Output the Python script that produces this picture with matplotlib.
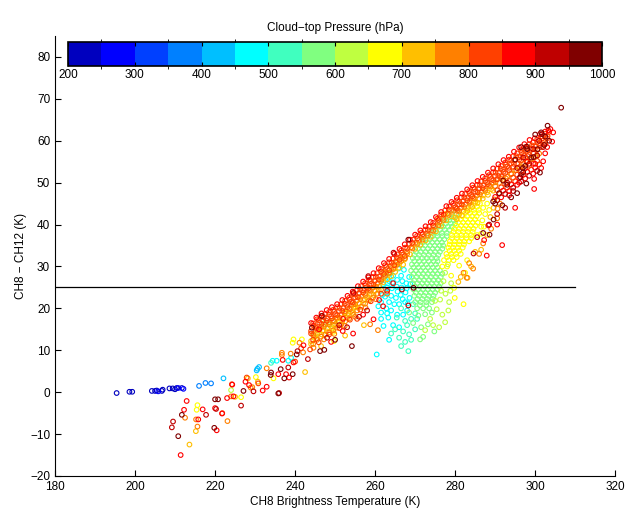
import numpy as np
import matplotlib
matplotlib.use('Agg')
import matplotlib.pyplot as plt
from matplotlib.colors import ListedColormap, BoundaryNorm
from matplotlib.cm import ScalarMappable

plt.rcParams['font.family'] = ['Liberation Sans', 'DejaVu Sans']
plt.rcParams['font.size'] = 8.5

# Точки (CH8 Tb, CH8-CH12), сгруппированы по давлению верхней границы облаков (hPa)
p225 = [(195.4, -0.2), (198.6, 0.1), (199.3, 0.1), (204.2, 0.3), (205.0, 0.3), (205.4, 0.4), (206.7, 0.3),
        (206.9, 0.6), (208.6, 0.9), (209.4, 0.9), (210.0, 0.7), (210.4, 1.0), (211.7, 1.0)]
p275 = [(205.8, 0.2), (210.8, 1.0), (212.1, 0.8)]
p375 = [(216.0, 1.5), (217.6, 2.2), (219.0, 2.1)]
p425 = [(222.1, 3.3), (230.4, 5.2), (230.6, 5.6), (231.0, 6.0)]
p475 = [(234.4, 7.5), (235.4, 7.5), (238.3, 7.5), (239.0, 8.2), (260.4, 9.0), (262.1, 15.8), (263.3, 17.8),
        (262.5, 27.5), (263.5, 26.5), (264.5, 27.8), (265.5, 26.8), (266.5, 27.8), (263.0, 25.0), (264.2, 24.8),
        (265.4, 25.2), (266.6, 25.0), (267.8, 26.0), (268.5, 27.5), (264.0, 23.0), (265.2, 22.5), (266.4, 23.2),
        (267.6, 23.8), (268.6, 22.5), (263.5, 21.5), (266.0, 21.0), (267.5, 21.5), (261.5, 19.0), (264.0, 19.5),
        (265.5, 18.5), (267.0, 18.5), (262.5, 22.8), (261.5, 21.5), (268.0, 19.5), (266.0, 15.5), (264.5, 16.0),
        (262.8, 20.0), (267.2, 29.2), (265.8, 29.5), (262.0, 25.8), (263.2, 26.0), (264.4, 26.2), (265.6, 24.0),
        (266.8, 26.5), (267.9, 24.8), (268.8, 25.8), (263.8, 28.3), (262.9, 23.8), (261.8, 23.2), (264.8, 21.0),
        (266.9, 22.2), (268.2, 21.2), (263.0, 18.8), (260.8, 20.5), (261.5, 17.5), (263.5, 12.5)]
p525 = [(265.4, 17.8), (268.3, 9.8), (266.0, 13.0), (267.0, 14.5), (268.0, 16.0), (269.0, 17.5), (270.0, 15.0),
        (267.5, 12.0), (269.0, 12.5), (266.5, 11.0), (265.0, 15.0), (268.5, 13.8), (270.5, 17.5), (266.5, 20.0),
        (269.5, 21.0), (270.0, 18.8), (264.0, 14.0), (267.5, 17.0), (234.0, 7.0)]
p575 = [(279.2, 42.5), (280.3, 42.5),
        (277.3, 41), (278.5, 41), (279.7, 41),
        (275.8, 39.5), (277, 39.5), (278.2, 39.5), (279.2, 39.5),
        (274.3, 38), (275.5, 38), (276.7, 38), (277.9, 38),
        (272.5, 36.5), (273.7, 36.5), (274.9, 36.5), (276.1, 36.5), (277.3, 36.5),
        (271.3, 35), (272.5, 35), (273.7, 35), (274.9, 35), (276.1, 35), (277, 35),
        (270.2, 33.5), (271.4, 33.5), (272.6, 33.5), (273.8, 33.5), (275, 33.5), (276.2, 33.5),
        (269.4, 32), (270.6, 32), (271.8, 32), (273, 32), (274.2, 32), (275.4, 32),
        (269.2, 30.5), (270.4, 30.5), (271.6, 30.5), (272.8, 30.5), (274, 30.5), (275.2, 30.5),
        (269, 29), (270.2, 29), (271.4, 29), (272.6, 29), (273.8, 29), (275, 29), (276.2, 29),
        (269.2, 27.5), (270.4, 27.5), (271.6, 27.5), (272.8, 27.5), (274, 27.5), (275.2, 27.5), (276.4, 27.5),
        (269.4, 26), (270.6, 26), (271.8, 26), (273, 26), (274.2, 26), (275.4, 26), (276.4, 26),
        (269.6, 24.5), (270.8, 24.5), (272, 24.5), (273.2, 24.5), (274.4, 24.5), (275.6, 24.5),
        (269.8, 23), (271, 23), (272.2, 23), (273.4, 23), (274.6, 23),
        (270, 21.5), (271.4, 21.5), (272.8, 21.5), (274.2, 21.5),
        (270.5, 20), (272, 20), (273.5, 20),
        (278.5, 41.75), (279.7, 41.75),
        (276.5, 40.25), (277.7, 40.25), (278.9, 40.25), (280, 40.25),
        (275, 38.75), (276.2, 38.75), (277.4, 38.75), (278.6, 38.75),
        (273.2, 37.25), (274.4, 37.25), (275.6, 37.25), (276.8, 37.25), (277.9, 37.25),
        (271.9, 35.75), (273.1, 35.75), (274.3, 35.75), (275.5, 35.75), (276.7, 35.75),
        (270.8, 34.25), (272, 34.25), (273.2, 34.25), (274.4, 34.25), (275.6, 34.25), (276.8, 34.25),
        (269.8, 32.75), (271, 32.75), (272.2, 32.75), (273.4, 32.75), (274.6, 32.75), (275.8, 32.75),
        (269.8, 31.25), (271, 31.25), (272.2, 31.25), (273.4, 31.25), (274.6, 31.25), (275.6, 31.25),
        (269.6, 29.75), (270.8, 29.75), (272, 29.75), (273.2, 29.75), (274.4, 29.75), (275.6, 29.75),
        (269.6, 28.25), (270.8, 28.25), (272, 28.25), (273.2, 28.25), (274.4, 28.25), (275.6, 28.25), (276.8, 28.25),
        (269.8, 26.75), (271, 26.75), (272.2, 26.75), (273.4, 26.75), (274.6, 26.75), (275.8, 26.75),
        (270, 25.25), (271.2, 25.25), (272.4, 25.25), (273.6, 25.25), (274.8, 25.25), (276, 25.25),
        (270.2, 23.75), (271.4, 23.75), (272.6, 23.75), (273.8, 23.75), (275, 23.75),
        (270.6, 22.25), (271.8, 22.25), (273, 22.25), (274.4, 22.25),
        (271.2, 20.75), (272.8, 20.75),
        (270.8, 18.3), (272.5, 18.6), (271.25, 12.6), (272.0, 13.2), (273.2, 16.2), (271.5, 15.5),
        (274.2, 19.0), (269.5, 16.5), (268.5, 19.0), (274.8, 14.5)]
p625 = [(224.0, 0.5), (244.6, 13.4), (245.4, 14.0), (247.1, 15.8), (247.5, 16.6), (248.6, 16.0), (249.5, 17.0),
        (246.3, 15.2), (273.75, 17.5), (275.4, 19.8), (276.25, 22.1), (277.1, 26.5), (277.5, 16.7), (276.5, 24.2),
        (277.5, 28.5), (278.2, 30.5), (276.8, 18.5), (278.5, 21.5), (275.0, 21.8), (274.5, 16.0), (279.0, 26.0),
        (272.5, 14.8), (278.3, 19.5), (276.0, 15.5), (277.6, 23.5), (278.8, 24.2)]
p675 = [(285, 45), (286.2, 45),
        (283.5, 43.5), (284.7, 43.5), (285.9, 43.5),
        (281.8, 42), (283, 42), (284.2, 42), (285.4, 42),
        (280.8, 40.5), (282, 40.5), (283.2, 40.5), (284.4, 40.5), (285.6, 40.5),
        (279.8, 39), (281, 39), (282.2, 39), (283.4, 39), (284.6, 39),
        (279.2, 37.5), (280.4, 37.5), (281.6, 37.5), (282.8, 37.5), (284, 37.5),
        (278.7, 36), (279.9, 36), (281.1, 36), (282.3, 36), (283.5, 36),
        (278.3, 34.5), (279.5, 34.5), (280.7, 34.5), (281.9, 34.5),
        (277.8, 33), (279, 33), (280.2, 33), (281.4, 33),
        (277.2, 31.5), (278.4, 31.5), (279.6, 31.5),
        (276.8, 30), (278, 30),
        (284.2, 44.25), (285.5, 44.25),
        (282.5, 42.75), (283.7, 42.75), (284.9, 42.75), (286, 42.75),
        (281.4, 41.25), (282.6, 41.25), (283.8, 41.25), (285, 41.25),
        (280.3, 39.75), (281.5, 39.75), (282.7, 39.75), (283.9, 39.75), (285.1, 39.75),
        (279.6, 38.25), (280.8, 38.25), (282, 38.25), (283.2, 38.25), (284.4, 38.25),
        (279.2, 36.75), (280.4, 36.75), (281.6, 36.75), (282.8, 36.75), (284, 36.75),
        (278.6, 35.25), (279.8, 35.25), (281, 35.25), (282.2, 35.25),
        (278.6, 33.75), (279.8, 33.75), (281, 33.75),
        (278, 32.25), (279.2, 32.25), (280.4, 32.25),
        (287.0, 44.0), (288.0, 45.0), (287.5, 42.5), (286.8, 41.0), (288.5, 43.5), (287.2, 39.5), (286.5, 37.8),
        (279.75, 24.9), (279.9, 22.5), (282.1, 21.0), (281.0, 30.2), (283.0, 31.5), (285.5, 37.5), (286.5, 39.5),
        (282.5, 28.5), (279.0, 27.8), (276.0, 41.5), (277.5, 42.5), (215.6, -3.1), (215.4, -4.2), (226.5, -1.2),
        (230.2, 3.6), (234.6, 3.3), (239.4, 11.8), (241.7, 12.6), (249.6, 14.4), (249.75, 12.2), (239.6, 12.6),
        (250.5, 17.5), (252.5, 19.0), (255.0, 20.5)]
p725 = [(244.0, 11.5), (245.3, 12.8), (246.6, 13.8), (247.9, 14.5), (249.2, 15.1), (250.5, 15.9), (251.8, 16.9),
        (253.1, 17.8), (254.4, 18.9), (255.7, 20.2), (257.0, 21.25), (258.3, 22.2), (259.6, 23.2), (260.9, 24.4),
        (262.2, 27.4), (263.5, 28.3), (264.8, 29.5), (266.1, 30.8), (267.4, 31.7), (268.7, 32.9), (270.0, 34.2),
        (271.3, 35.2), (272.6, 36.2), (273.9, 37.1), (275.2, 38.4), (276.5, 39.7), (277.8, 41.0), (279.1, 42.0),
        (280.4, 41.3), (281.7, 42.2), (283.0, 43.25), (284.3, 44.2), (285.6, 45.2), (286.9, 46.2), (288.2, 47.1),
        (289.5, 48.1),
        (244, 12.2), (245, 13.2), (246, 14.2), (247, 14.7), (248, 15.2), (249, 15.7), (250, 16.2), (251, 16.95),
        (252, 17.7), (253, 18.45), (254, 19.2), (255, 20.2), (256, 21.2), (257, 21.95), (258, 22.7), (259, 23.45),
        (260, 24.2), (261, 25.2), (262, 26.2), (263, 26.95), (264, 27.7), (265, 28.7), (266, 29.7), (267, 30.45),
        (280, 41.7), (281, 42.45), (282, 43.2), (283, 43.95), (284, 44.7), (285, 45.45), (286, 46.2),
        (287, 46.95), (288, 47.7), (289, 48.45),
        (213.6, -12.5), (215.2, -9.3), (225.0, -1.1), (228.2, 3.3), (230.7, 2.5), (242.5, 4.8), (283.1, 27.3),
        (281.4, 27.5), (280.8, 26.3), (284.0, 30.0), (286.5, 34.0), (288.0, 37.5), (285.0, 33.5), (246.5, 11.0),
        (252.5, 13.5), (257.2, 16.0), (288.8, 41.8), (289.6, 44.0)]
p775 = [(244.6, 13.6), (245.9, 14.9), (247.2, 15.6), (248.5, 16.25), (249.8, 16.9), (251.1, 17.8), (252.4, 18.8),
        (253.7, 19.8), (255.0, 21.0), (256.3, 22.2), (257.6, 23.2), (258.9, 24.2), (260.2, 25.2), (261.5, 26.5),
        (262.8, 28.6), (264.1, 29.6), (265.4, 30.9), (266.7, 32.0), (268.0, 33.0), (269.3, 34.3), (270.6, 35.4),
        (271.9, 36.4), (273.2, 37.4), (274.5, 38.5), (275.8, 39.8), (277.1, 41.1), (278.4, 42.3), (279.7, 43.3),
        (281.0, 43.25), (282.3, 44.2), (283.6, 45.2), (284.9, 46.2), (286.2, 47.2), (287.5, 48.1), (288.8, 49.1),
        (290.1, 50.1), (291.4, 51.0), (292.7, 51.0), (294.0, 52.0), (295.3, 53.0), (296.6, 53.9), (297.9, 54.9),
        (299.2, 55.6), (300.5, 56.4),
        (262, 28.6), (263, 29.35), (264, 30.1), (265, 31.1), (266, 32.1), (267, 32.85), (268, 33.6), (269, 34.6),
        (270, 35.6), (271, 36.35), (272, 37.1), (273, 37.85), (274, 38.6), (275, 39.6), (276, 40.6), (277, 41.6),
        (278, 42.6), (279, 43.35),
        (244.5, 13.9), (245.5, 14.9), (246.5, 15.65), (247.5, 16.15), (248.5, 16.65), (249.5, 17.15),
        (250.5, 17.8), (251.5, 18.5), (252.5, 19.3), (253.5, 20.0), (254.5, 20.9), (255.5, 21.9), (256.5, 22.8),
        (257.5, 23.5), (258.5, 24.3), (259.5, 25.0), (260.5, 25.9), (261.5, 26.9), (262.5, 27.8), (263.5, 28.5),
        (264.5, 29.4), (265.5, 30.4), (266.5, 31.3), (267.5, 32.0),
        (280.5, 43.3), (281.5, 44.0), (282.5, 44.8), (283.5, 45.5), (284.5, 46.3), (285.5, 47.0), (286.5, 47.8),
        (287.5, 48.5), (288.5, 49.3), (289.5, 50.0),
        (290, 49.2), (291, 49.95), (292, 50.7), (293, 51.45), (294, 52.2), (295, 52.95), (296, 53.7),
        (297, 54.45), (298, 55.2), (299, 55.7), (300, 56.2), (301, 56.95),
        (244.5, 11.5), (245.5, 12.5), (246.5, 13.25), (247.5, 13.75), (248.5, 14.25), (249.5, 14.75),
        (250.5, 15.4), (251.5, 16.1), (252.5, 16.9), (253.5, 17.6), (254.5, 18.5), (255.5, 19.5), (256.5, 20.4),
        (257.5, 21.1), (258.5, 21.9), (259.5, 22.6), (260.5, 23.5), (261.5, 24.5),
        (244.6, 10.6), (247.2, 12.6), (249.8, 13.9), (252.4, 15.8), (255.0, 18.0), (257.6, 20.2), (260.2, 22.2),
        (212.5, -6.1), (215.6, -8.2), (215.25, -6.5), (223.1, -6.9), (224.0, -1.0), (229.3, 1.2), (228.9, 1.1),
        (232.9, 5.7), (236.7, 8.9), (236.7, 9.4), (241.1, 11.8), (258.75, 16.2), (260.7, 14.8), (282.9, 27.3),
        (282.1, 28.5), (284.5, 29.5), (287.0, 35.5), (289.0, 39.0), (290.5, 41.5), (286.0, 33.0), (283.5, 30.8),
        (238.9, 9.2), (242.0, 9.5), (263.0, 23.5), (289.8, 46.0), (291.2, 45.0), (290.6, 43.8)]
p825 = [(244.6, 15.9), (245.9, 17.2), (247.2, 17.9), (248.5, 18.5), (249.8, 19.2), (251.1, 20.1), (252.4, 21.1),
        (253.7, 22.1), (255.0, 23.3), (256.3, 24.5), (257.6, 25.5), (258.9, 26.5), (260.2, 27.5), (261.5, 28.8),
        (262.8, 29.9), (264.1, 30.9), (265.4, 32.2), (266.7, 33.3), (268.0, 34.3), (269.3, 35.6), (270.6, 36.7),
        (271.9, 37.7), (273.2, 38.7), (274.5, 39.8), (275.8, 41.1), (277.1, 42.4), (278.4, 43.6), (279.7, 44.6),
        (281.0, 45.5), (282.3, 46.5), (283.6, 47.5), (284.9, 48.5), (286.2, 49.4), (287.5, 50.4), (288.8, 51.4),
        (290.1, 52.4), (291.4, 53.3), (292.7, 54.3), (294.0, 55.3), (295.3, 56.3), (296.6, 57.2), (297.9, 58.2),
        (299.2, 58.9), (300.5, 59.7), (301.8, 60.6), (303.1, 61.1),
        (244.0, 14.0), (245.3, 15.3), (246.6, 16.3), (247.9, 17.0), (249.2, 17.6), (250.5, 18.4), (251.8, 19.4),
        (253.1, 20.3), (254.4, 21.4), (255.7, 22.7), (257.0, 23.8), (258.3, 24.7), (259.6, 25.7), (260.9, 26.9),
        (262.2, 28.2), (263.5, 29.1), (264.8, 30.3), (266.1, 31.6), (267.4, 32.5), (280.4, 43.8), (281.7, 44.8),
        (283.0, 45.75), (284.3, 46.7), (285.6, 47.7), (286.9, 48.7), (288.2, 49.65), (289.5, 50.6), (290.8, 51.6),
        (292.1, 52.6), (293.4, 53.55), (294.7, 54.5), (296.0, 55.5), (297.3, 56.5), (298.6, 57.3), (299.9, 57.95),
        (301.2, 58.9), (302.5, 59.75),
        (244.5, 16.4), (245.5, 17.4), (246.5, 18.15), (247.5, 18.65), (248.5, 19.15), (249.5, 19.65),
        (250.5, 20.3), (251.5, 21.0), (252.5, 21.8), (253.5, 22.5), (254.5, 23.4), (255.5, 24.4), (256.5, 25.3),
        (257.5, 26.0), (258.5, 26.8), (259.5, 27.5), (260.5, 28.4), (261.5, 29.4), (262.5, 30.3), (263.5, 31.0),
        (264.5, 31.9), (265.5, 32.9), (266.5, 33.8), (267.5, 34.5), (268.5, 35.4), (269.5, 36.4), (270.5, 37.3),
        (271.5, 38.0), (272.5, 38.8), (273.5, 39.5), (274.5, 40.4), (275.5, 41.4), (276.5, 42.4), (277.5, 43.4),
        (278.5, 44.3), (279.5, 45.0), (280.5, 45.8), (281.5, 46.5), (282.5, 47.3), (283.5, 48.0), (284.5, 48.8),
        (285.5, 49.5), (286.5, 50.3), (287.5, 51.0), (288.5, 51.8), (289.5, 52.5), (290.5, 53.3), (291.5, 54.0),
        (292.5, 54.8), (293.5, 55.5), (294.5, 56.3), (295.5, 57.0), (296.5, 57.8), (297.5, 58.5), (298.5, 59.15),
        (299.5, 59.65), (300.5, 60.3), (301.5, 61.0), (302.5, 61.65), (303.5, 62.15),
        (244, 14.6), (245, 15.6), (246, 16.6), (247, 17.1), (248, 17.6), (249, 18.1), (250, 18.6), (251, 19.35),
        (252, 20.1), (253, 20.85), (254, 21.6), (255, 22.6), (256, 23.6), (257, 24.35), (258, 25.1), (259, 25.85),
        (260, 26.6), (261, 27.6), (280, 44.1), (281, 44.85), (282, 45.6), (283, 46.35), (284, 47.1), (285, 47.85),
        (286, 48.6), (287, 49.35), (288, 50.1), (289, 50.85), (290, 51.6), (291, 52.35), (292, 53.1), (293, 53.85),
        (294, 54.6), (295, 55.35), (296, 56.1), (297, 56.85), (298, 57.6), (299, 58.1), (300, 58.6), (301, 59.35),
        (302, 60.1), (303, 60.6),
        (290.5, 50.8), (291.5, 51.5), (292.5, 52.3), (293.5, 53.0), (294.5, 53.8), (295.5, 54.5), (296.5, 55.3),
        (297.5, 56.0), (298.5, 56.65), (299.5, 57.15), (300.5, 57.8), (301.5, 58.5), (302.5, 59.15),
        (290.5, 48.2), (291.5, 48.9), (292.5, 49.7), (293.5, 50.4), (294.5, 51.2), (295.5, 51.9), (296.5, 52.7),
        (297.5, 53.4), (298.5, 54.05), (299.5, 54.55), (300.5, 55.2),
        (291, 47.35), (293, 48.85), (295, 50.35), (297, 51.85), (299, 53.1), (301, 54.35),
        (245.9, 11.9), (248.5, 13.75), (251.1, 15.3), (253.7, 17.3), (256.3, 19.7), (258.9, 21.7), (261.5, 23.5),
        (221.8, -5.0), (224.2, 1.9), (227.9, 3.5), (230.8, 2.1), (240.0, 7.3), (243.75, 10.2), (255.5, 17.5),
        (241.5, 10.5), (244.5, 12.5)]
p875 = [(244.0, 16.5), (245.3, 17.8), (246.6, 18.8), (247.9, 19.6), (249.2, 20.3), (250.5, 21.0), (251.8, 22.0),
        (253.1, 23.0), (254.4, 24.0), (255.7, 25.3), (257.0, 26.4), (258.3, 27.4), (259.6, 28.4), (260.9, 29.6),
        (262.2, 30.8), (263.5, 31.8), (264.8, 33.0), (266.1, 34.2), (267.4, 35.3), (268.7, 36.4), (270.0, 37.6),
        (271.3, 38.6), (272.6, 39.6), (273.9, 40.6), (275.2, 41.8), (276.5, 43.0), (277.8, 44.4), (279.1, 45.4),
        (280.4, 46.4), (281.7, 47.4), (283.0, 48.4), (284.3, 49.4), (285.6, 50.4), (286.9, 51.4), (288.2, 52.4),
        (289.5, 53.4), (290.8, 54.4), (292.1, 55.4), (293.4, 56.2), (294.7, 57.4), (296.0, 58.4), (297.3, 59.2),
        (298.6, 60.2), (299.9, 60.6), (301.2, 61.6), (302.5, 62.2), (303.8, 62.8),
        (290, 46.6), (292, 48.1), (294, 49.6), (296, 51.1), (298, 52.6), (300, 53.6), (302, 55.1),
        (291.5, 46.5), (293.5, 48.0), (295.5, 49.5), (297.5, 51.0), (299.5, 52.15), (301.5, 53.5),
        (212.9, -2.1), (216.9, -4.1), (212.25, -4.2), (211.4, -15.0), (215.8, -6.5), (220.0, -3.8), (220.4, -9.1),
        (221.75, -5.1), (223.0, -1.4), (224.3, 1.8), (224.6, -1.0), (227.6, 2.5), (228.5, 1.7), (231.9, 0.4),
        (232.9, 1.3), (236.9, 7.7), (238.5, 3.5), (239.6, 7.1), (235.8, 4.3), (237.75, 4.3), (242.1, 11.2),
        (251.9, 14.6), (259.6, 17.4), (287.9, 32.6), (291.75, 35.1), (299.75, 48.5), (295.0, 44.0), (298.0, 55.0),
        (304.25, 59.8), (287.25, 36.3), (290.5, 40.0), (296.0, 50.0), (300.0, 54.5), (302.5, 57.0), (304.5, 62.0),
        (303.0, 58.5), (293.5, 47.0), (246.0, 15.0), (249.0, 12.0), (252.0, 17.5), (254.5, 14.0), (257.0, 18.5),
        (261.0, 22.0), (263.0, 24.2), (264.5, 26.0), (262.0, 20.5), (288.3, 39.8), (303.3, 62.5), (299.75, 50.9)]
p925 = [(209.5, -7.0), (209.2, -8.4), (217.75, -5.4), (220.25, -4.0), (226.5, -3.2), (229.6, 0.2), (236.0, -0.2),
        (238.3, 5.9), (240.6, 9.8), (243.2, 7.9), (248.0, 13.0), (251.0, 16.0), (253.0, 15.5), (256.0, 18.0),
        (258.0, 19.5), (266.7, 24.5), (268.3, 20.7), (258.3, 27.7), (254.6, 23.7), (264.6, 33.3), (284.6, 33.1),
        (288.5, 40.0), (290.5, 42.5), (292.5, 44.0), (294.5, 48.0), (296.5, 52.0), (298.5, 54.5), (300.5, 56.5),
        (302.0, 58.5), (293.0, 50.0), (295.5, 53.5), (297.0, 56.0), (299.5, 58.0), (301.0, 60.0), (285.5, 37.0),
        (290.5, 45.8), (292.5, 47.3), (294.5, 48.8), (296.5, 50.3), (298.5, 51.65), (300.5, 52.8)]
p975 = [(210.8, -10.5), (211.7, -5.4), (220.0, -1.7), (220.75, -1.7), (219.8, -8.5), (227.1, 0.3), (233.9, 4.1),
        (234.0, 4.7), (237.3, 3.3), (239.4, 4.3), (240.4, 9.0), (236.4, 5.5), (235.8, -0.3), (246.25, 9.8),
        (247.3, 10.1), (244.2, 15.4), (246.7, 18.2), (254.2, 11.0), (250.0, 12.5), (269.6, 24.9), (268.3, 36.4),
        (289.5, 45.5), (291.0, 47.5), (293.0, 49.5), (297.5, 54.0), (299.0, 56.0), (303.5, 60.0), (292.0, 50.5),
        (295.0, 55.5), (298.0, 58.0), (300.0, 61.5), (301.5, 62.0), (302.5, 61.0), (296.5, 58.5), (306.5, 67.9),
        (297.0, 52.5), (295.5, 47.5), (287.0, 38.0), (290.0, 45.0), (303.1, 63.6), (301.7, 61.6), (299.6, 56.1),
        (296.9, 53.5), (296.25, 51.3), (289.6, 41.2), (288.6, 37.6), (297.9, 58.6), (300.6, 58.0), (302.25, 59.0),
        (291.8, 44.6), (294.0, 46.5), (297.8, 49.8), (301.2, 52.4)]

groups = [(225, p225), (275, p275), (375, p375), (425, p425), (475, p475), (525, p525),
          (575, p575), (625, p625), (675, p675), (725, p725), (775, p775), (825, p825),
          (875, p875), (925, p925), (975, p975)]

levels = np.arange(200, 1001, 50)
jet16 = [(0, 0, 0.75), (0, 0, 1), (0, 0.25, 1), (0, 0.5, 1), (0, 0.75, 1), (0, 1, 1),
         (0.25, 1, 0.75), (0.5, 1, 0.5), (0.75, 1, 0.25), (1, 1, 0), (1, 0.75, 0), (1, 0.5, 0),
         (1, 0.25, 0), (1, 0, 0), (0.75, 0, 0), (0.5, 0, 0)]
cmap = ListedColormap(jet16)
norm = BoundaryNorm(levels, cmap.N)

tb = np.concatenate([np.asarray(pts, dtype=float)[:, 0] for _, pts in groups])
dt = np.concatenate([np.asarray(pts, dtype=float)[:, 1] for _, pts in groups])
ctp = np.concatenate([np.full(len(pts), p) for p, pts in groups])

threshold = 25
thr_x = [180, 310]

fig = plt.figure(figsize=(6.28, 5.11), dpi=100)
ax = fig.add_axes([0.0876, 0.0685, 0.892, 0.861])
ax.scatter(tb, dt, s=11, facecolors='none', edgecolors=cmap(norm(ctp)), linewidths=0.8)
ax.plot(thr_x, [threshold, threshold], color='k', lw=0.9)

ax.set_xlim(180, 320)
ax.set_ylim(-20, 85)
ax.set_xticks(np.arange(180, 321, 20))
ax.set_yticks(np.arange(-20, 81, 10))
ax.spines['top'].set_visible(False)
ax.spines['right'].set_visible(False)
ax.tick_params(direction='in', length=4, width=0.8)
ax.set_xlabel('CH8 Brightness Temperature (K)', labelpad=2)
ax.set_ylabel('CH8 − CH12 (K)', labelpad=2)

cax = fig.add_axes([0.1083, 0.8708, 0.8503, 0.047])
cb = fig.colorbar(ScalarMappable(norm=norm, cmap=cmap), cax=cax, orientation='horizontal',
                  ticks=np.arange(200, 1001, 100))
cax.xaxis.set_ticks_position('both')
cax.tick_params(direction='in', length=3, width=0.8, labeltop=False, labelbottom=True, pad=2)
cb.outline.set_linewidth(1.2)
cax.set_title('Cloud−top Pressure (hPa)', fontsize=8.5, pad=8)

plt.savefig('out.png', dpi=100)
